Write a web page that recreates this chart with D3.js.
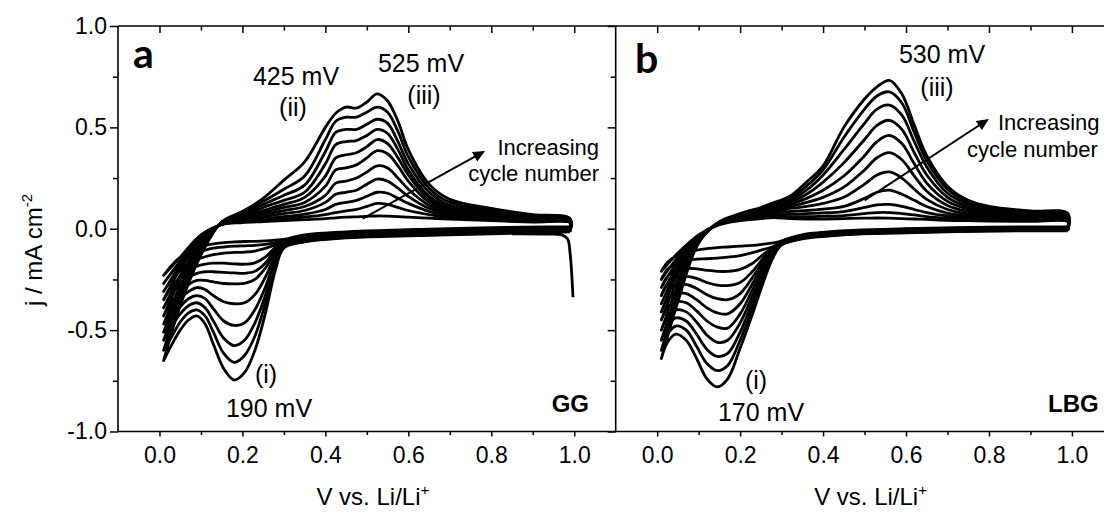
<!DOCTYPE html>
<html>
<head>
<meta charset="utf-8">
<script src="https://cdn.jsdelivr.net/npm/d3@7"></script>
<style>
  body { margin: 0; background: #fff; }
  svg { display: block; }
</style>
</head>
<body>
<svg id="chart" width="1104" height="512"></svg>
<script>
// ---- data (V vs Li/Li+, j in mA cm-2) ----
// cycles 1..11, smallest first

// panel a (GG) anodic sweeps
const vAnodicA = [0.01, 0.05, 0.1, 0.15, 0.2, 0.25, 0.3, 0.35, 0.4, 0.425, 0.45, 0.475, 0.5, 0.525, 0.55, 0.575, 0.6, 0.65, 0.7, 0.8, 0.9, 0.99];
const jAnodicA = [
  [-0.23, -0.14, -0.03, 0.02, 0.03, 0.035, 0.04, 0.045, 0.05, 0.054, 0.057, 0.059, 0.061, 0.063, 0.062, 0.06, 0.057, 0.052, 0.048, 0.04, 0.033, 0.03],
  [-0.27, -0.16, -0.04, 0.021, 0.035, 0.04, 0.05, 0.058, 0.07, 0.08, 0.088, 0.095, 0.11, 0.125, 0.12, 0.105, 0.09, 0.07, 0.055, 0.045, 0.036, 0.032],
  [-0.31, -0.18, -0.05, 0.022, 0.04, 0.05, 0.06, 0.072, 0.095, 0.12, 0.13, 0.14, 0.16, 0.18, 0.175, 0.15, 0.125, 0.085, 0.062, 0.05, 0.04, 0.034],
  [-0.35, -0.2, -0.06, 0.024, 0.045, 0.06, 0.075, 0.09, 0.13, 0.17, 0.18, 0.19, 0.22, 0.245, 0.235, 0.2, 0.16, 0.1, 0.07, 0.055, 0.043, 0.036],
  [-0.39, -0.23, -0.07, 0.026, 0.05, 0.07, 0.09, 0.11, 0.165, 0.225, 0.235, 0.25, 0.28, 0.31, 0.3, 0.25, 0.195, 0.115, 0.078, 0.06, 0.047, 0.038],
  [-0.43, -0.25, -0.08, 0.028, 0.055, 0.08, 0.105, 0.13, 0.21, 0.29, 0.30, 0.315, 0.35, 0.385, 0.37, 0.31, 0.235, 0.13, 0.086, 0.065, 0.05, 0.04],
  [-0.47, -0.28, -0.09, 0.029, 0.06, 0.09, 0.12, 0.155, 0.26, 0.35, 0.365, 0.375, 0.405, 0.44, 0.42, 0.35, 0.265, 0.145, 0.095, 0.07, 0.054, 0.042],
  [-0.51, -0.3, -0.1, 0.03, 0.065, 0.105, 0.14, 0.18, 0.32, 0.415, 0.43, 0.435, 0.46, 0.49, 0.47, 0.39, 0.29, 0.16, 0.105, 0.077, 0.058, 0.044],
  [-0.55, -0.33, -0.11, 0.031, 0.07, 0.12, 0.165, 0.215, 0.38, 0.475, 0.49, 0.49, 0.515, 0.54, 0.52, 0.43, 0.32, 0.18, 0.115, 0.084, 0.062, 0.046],
  [-0.60, -0.35, -0.12, 0.032, 0.078, 0.135, 0.195, 0.26, 0.44, 0.53, 0.55, 0.55, 0.575, 0.60, 0.575, 0.48, 0.355, 0.2, 0.13, 0.092, 0.066, 0.048],
  [-0.65, -0.38, -0.13, 0.033, 0.085, 0.15, 0.24, 0.33, 0.50, 0.57, 0.60, 0.595, 0.625, 0.665, 0.63, 0.53, 0.39, 0.22, 0.145, 0.10, 0.07, 0.05]
];

// panel a cathodic sweeps
const vCathodicA = [0.01, 0.03, 0.05, 0.07, 0.09, 0.11, 0.13, 0.155, 0.18, 0.205, 0.23, 0.255, 0.28, 0.3, 0.35, 0.45, 0.6, 0.8, 0.99];
const jCathodicA = [
  [-0.23, -0.18, -0.14, -0.112, -0.095, -0.083, -0.075, -0.068, -0.065, -0.063, -0.062, -0.06, -0.056, -0.052, -0.03, -0.015, -0.005, 0.005, 0.01],
  [-0.27, -0.215, -0.17, -0.14, -0.12, -0.106, -0.096, -0.09, -0.086, -0.084, -0.082, -0.077, -0.068, -0.058, -0.033, -0.018, -0.008, 0.002, 0.008],
  [-0.31, -0.25, -0.205, -0.172, -0.152, -0.138, -0.128, -0.12, -0.117, -0.115, -0.11, -0.097, -0.078, -0.062, -0.037, -0.021, -0.011, -0.001, 0.006],
  [-0.35, -0.285, -0.24, -0.205, -0.185, -0.175, -0.17, -0.17, -0.173, -0.175, -0.168, -0.14, -0.09, -0.066, -0.04, -0.024, -0.014, -0.004, 0.004],
  [-0.39, -0.32, -0.275, -0.24, -0.22, -0.212, -0.212, -0.215, -0.218, -0.22, -0.21, -0.17, -0.10, -0.07, -0.044, -0.027, -0.017, -0.007, 0.002],
  [-0.43, -0.36, -0.31, -0.275, -0.255, -0.255, -0.262, -0.27, -0.272, -0.27, -0.25, -0.195, -0.115, -0.074, -0.048, -0.03, -0.02, -0.01, 0.0],
  [-0.47, -0.40, -0.345, -0.31, -0.29, -0.30, -0.33, -0.36, -0.37, -0.365, -0.325, -0.24, -0.13, -0.078, -0.051, -0.033, -0.023, -0.013, -0.003],
  [-0.51, -0.44, -0.385, -0.345, -0.33, -0.345, -0.395, -0.455, -0.477, -0.465, -0.40, -0.29, -0.15, -0.082, -0.055, -0.036, -0.026, -0.016, -0.006],
  [-0.55, -0.48, -0.42, -0.38, -0.365, -0.39, -0.455, -0.54, -0.576, -0.55, -0.465, -0.33, -0.165, -0.085, -0.058, -0.039, -0.029, -0.019, -0.009],
  [-0.60, -0.53, -0.46, -0.415, -0.40, -0.43, -0.51, -0.615, -0.659, -0.625, -0.53, -0.37, -0.18, -0.09, -0.062, -0.042, -0.032, -0.022, -0.012],
  [-0.65, -0.57, -0.50, -0.45, -0.43, -0.47, -0.57, -0.69, -0.746, -0.71, -0.60, -0.42, -0.20, -0.095, -0.065, -0.045, -0.035, -0.025, -0.015]
];

// first sweep of panel a starts at 1 V with a cathodic spike
const vFirstSweepA = [0.997, 0.99, 0.984, 0.97, 0.93, 0.85];
const jFirstSweepA = [-0.338, -0.12, -0.05, -0.03, -0.026, -0.025];

// panel b (LBG) anodic sweeps
const vAnodicB = [0.01, 0.05, 0.1, 0.15, 0.2, 0.25, 0.28, 0.32, 0.36, 0.4, 0.45, 0.5, 0.53, 0.56, 0.59, 0.62, 0.65, 0.7, 0.75, 0.8, 0.9, 0.99];
const jAnodicB = [
  [-0.21, -0.12, -0.03, 0.02, 0.04, 0.05, 0.055, 0.05, 0.048, 0.048, 0.05, 0.052, 0.053, 0.052, 0.05, 0.048, 0.046, 0.042, 0.04, 0.038, 0.036, 0.034],
  [-0.25, -0.14, -0.035, 0.022, 0.045, 0.058, 0.065, 0.06, 0.06, 0.062, 0.065, 0.075, 0.08, 0.08, 0.075, 0.068, 0.06, 0.052, 0.047, 0.044, 0.04, 0.037],
  [-0.29, -0.16, -0.04, 0.024, 0.05, 0.065, 0.075, 0.072, 0.075, 0.078, 0.085, 0.105, 0.118, 0.12, 0.11, 0.095, 0.08, 0.063, 0.054, 0.05, 0.044, 0.04],
  [-0.33, -0.18, -0.045, 0.026, 0.053, 0.072, 0.085, 0.085, 0.09, 0.097, 0.11, 0.15, 0.18, 0.19, 0.17, 0.14, 0.11, 0.077, 0.063, 0.056, 0.048, 0.043],
  [-0.37, -0.2, -0.05, 0.028, 0.056, 0.078, 0.095, 0.1, 0.11, 0.125, 0.155, 0.22, 0.265, 0.28, 0.25, 0.195, 0.145, 0.095, 0.073, 0.062, 0.052, 0.046],
  [-0.41, -0.22, -0.055, 0.03, 0.058, 0.083, 0.102, 0.11, 0.13, 0.155, 0.205, 0.29, 0.35, 0.375, 0.34, 0.26, 0.185, 0.115, 0.085, 0.07, 0.057, 0.05],
  [-0.45, -0.25, -0.06, 0.031, 0.06, 0.088, 0.108, 0.12, 0.15, 0.19, 0.26, 0.36, 0.43, 0.46, 0.42, 0.32, 0.225, 0.135, 0.097, 0.078, 0.062, 0.054],
  [-0.50, -0.28, -0.062, 0.032, 0.062, 0.092, 0.113, 0.13, 0.17, 0.23, 0.325, 0.44, 0.51, 0.535, 0.49, 0.375, 0.265, 0.155, 0.108, 0.086, 0.068, 0.058],
  [-0.55, -0.31, -0.065, 0.033, 0.063, 0.095, 0.118, 0.14, 0.19, 0.265, 0.39, 0.52, 0.59, 0.61, 0.56, 0.43, 0.305, 0.175, 0.12, 0.094, 0.074, 0.063],
  [-0.60, -0.33, -0.068, 0.034, 0.064, 0.098, 0.122, 0.15, 0.21, 0.29, 0.45, 0.59, 0.655, 0.675, 0.62, 0.475, 0.335, 0.195, 0.13, 0.102, 0.081, 0.069],
  [-0.64, -0.36, -0.07, 0.035, 0.075, 0.105, 0.128, 0.16, 0.23, 0.31, 0.50, 0.64, 0.70, 0.732, 0.665, 0.51, 0.36, 0.21, 0.14, 0.11, 0.088, 0.075]
];

// panel b cathodic sweeps
const vCathodicB = [0.01, 0.025, 0.045, 0.07, 0.095, 0.12, 0.145, 0.17, 0.2, 0.23, 0.26, 0.28, 0.3, 0.35, 0.45, 0.6, 0.8, 0.99];
const jCathodicB = [
  [-0.21, -0.165, -0.135, -0.115, -0.105, -0.098, -0.093, -0.09, -0.086, -0.082, -0.075, -0.07, -0.06, -0.03, -0.01, 0.0, 0.008, 0.01],
  [-0.25, -0.2, -0.17, -0.155, -0.15, -0.148, -0.145, -0.14, -0.132, -0.118, -0.1, -0.088, -0.062, -0.032, -0.012, -0.002, 0.006, 0.008],
  [-0.29, -0.235, -0.205, -0.195, -0.198, -0.205, -0.21, -0.21, -0.2, -0.17, -0.12, -0.095, -0.064, -0.034, -0.014, -0.004, 0.004, 0.006],
  [-0.33, -0.27, -0.24, -0.235, -0.245, -0.265, -0.278, -0.28, -0.265, -0.21, -0.135, -0.1, -0.066, -0.036, -0.016, -0.006, 0.002, 0.004],
  [-0.37, -0.31, -0.28, -0.275, -0.295, -0.325, -0.345, -0.35, -0.32, -0.24, -0.15, -0.105, -0.068, -0.038, -0.018, -0.008, 0.0, 0.002],
  [-0.41, -0.35, -0.32, -0.32, -0.35, -0.39, -0.415, -0.42, -0.37, -0.27, -0.165, -0.11, -0.07, -0.04, -0.02, -0.01, -0.002, 0.0],
  [-0.45, -0.39, -0.36, -0.365, -0.405, -0.455, -0.485, -0.49, -0.42, -0.30, -0.18, -0.115, -0.072, -0.042, -0.022, -0.012, -0.004, -0.002],
  [-0.50, -0.435, -0.40, -0.41, -0.46, -0.525, -0.56, -0.55, -0.465, -0.33, -0.195, -0.12, -0.074, -0.044, -0.024, -0.014, -0.006, -0.004],
  [-0.55, -0.48, -0.44, -0.455, -0.52, -0.595, -0.63, -0.615, -0.51, -0.36, -0.21, -0.125, -0.076, -0.046, -0.026, -0.016, -0.008, -0.006],
  [-0.60, -0.52, -0.48, -0.50, -0.58, -0.665, -0.70, -0.675, -0.55, -0.39, -0.225, -0.13, -0.078, -0.048, -0.028, -0.018, -0.01, -0.008],
  [-0.64, -0.56, -0.52, -0.55, -0.64, -0.74, -0.78, -0.74, -0.59, -0.42, -0.24, -0.14, -0.08, -0.05, -0.03, -0.02, -0.012, -0.01]
];

// "Increasing cycle number" arrows: [V, j] tail and head
const arrowA = [[0.49, 0.05], [0.78, 0.378]];
const arrowB = [[0.50, 0.14], [0.795, 0.535]];

// ticks
const xMajor = [0, 0.2, 0.4, 0.6, 0.8, 1.0];
const xTickLabels = ["0.0", "0.2", "0.4", "0.6", "0.8", "1.0"];
const xMinor = [0.1, 0.3, 0.5, 0.7, 0.9];
const yMajor = [-1, -0.5, 0, 0.5, 1];
const yTickLabels = ["-1.0", "-0.5", "0.0", "0.5", "1.0"];
const yMinor = [-0.75, -0.25, 0.25, 0.75];

// ---- layout ----
const width = 1104, height = 512;
const plotTop = 26, plotBottom = 431.5;
const font = "'Liberation Sans', Arial, sans-serif";

const svg = d3.select("#chart");
svg.append("rect").attr("width", width).attr("height", height).attr("fill", "#fff");

const xa = d3.scaleLinear().domain([-0.1, 1.1]).range([118, 615.7]);
const xb = d3.scaleLinear().domain([-0.1, 1.1]).range([615.7, 1113.4]);
const y = d3.scaleLinear().domain([-1, 1]).range([plotBottom, plotTop]);

// arrow head
svg.append("defs")
  .append("marker")
  .attr("id", "head")
  .attr("viewBox", "0 0 10 10")
  .attr("refX", 8)
  .attr("refY", 5)
  .attr("markerWidth", 6.5)
  .attr("markerHeight", 6)
  .attr("orient", "auto")
  .append("path")
  .attr("d", "M0,0.5 L10,5 L0,9.5 z")
  .attr("fill", "#000");

// build one closed loop per cycle: cathodic 1V -> 0V then anodic 0V -> 1V
function buildLoops(vAn, jAn, vCa, jCa) {
  return jAn.map((row, i) => {
    const cath = vCa.map((v, k) => [v, jCa[i][k]]).reverse();
    const an = vAn.map((v, k) => [v, row[k]]);
    const pts = cath.concat(an);
    pts.push(pts[0]);
    return pts;
  });
}

function drawPanel(x, loops) {
  const line = d3.line()
    .x((d) => x(d[0]))
    .y((d) => y(d[1]))
    .curve(d3.curveCatmullRom.alpha(0.5));

  const g = svg.append("g");
  g.selectAll(".cycle")
    .data(loops)
    .enter()
    .append("path")
    .attr("class", "cycle")
    .attr("d", line)
    .attr("fill", "none")
    .attr("stroke", "#000")
    .attr("stroke-width", 2.8)
    .attr("stroke-linejoin", "round");
  return line;
}

const lineA = drawPanel(xa, buildLoops(vAnodicA, jAnodicA, vCathodicA, jCathodicA));
drawPanel(xb, buildLoops(vAnodicB, jAnodicB, vCathodicB, jCathodicB));

// the first sweep spike at 1 V (panel a)
svg.append("path")
  .datum(vFirstSweepA.map((v, k) => [v, jFirstSweepA[k]]))
  .attr("d", lineA)
  .attr("fill", "none")
  .attr("stroke", "#000")
  .attr("stroke-width", 2.8);

// arrows
[[xa, arrowA], [xb, arrowB]].forEach(([x, a]) => {
  svg.append("line")
    .attr("x1", x(a[0][0]))
    .attr("y1", y(a[0][1]))
    .attr("x2", x(a[1][0]))
    .attr("y2", y(a[1][1]))
    .attr("stroke", "#000")
    .attr("stroke-width", 2)
    .attr("marker-end", "url(#head)");
});

// ---- axes ----
function styleAxis(g, size) {
  g.select(".domain").remove();
  g.selectAll(".tick line").attr("stroke", "#000").attr("stroke-width", 1.5);
  g.attr("font-size", size).attr("font-family", font);
  g.selectAll("text").attr("fill", "#000");
}

[xa, xb].forEach((x) => {
  // bottom
  svg.append("g")
    .attr("transform", `translate(0,${plotBottom})`)
    .call(d3.axisBottom(x).tickValues(xMajor).tickFormat((d, i) => xTickLabels[i]).tickSize(5).tickPadding(10))
    .call((g) => styleAxis(g, 23));
  svg.append("g")
    .attr("transform", `translate(0,${plotBottom})`)
    .call(d3.axisBottom(x).tickValues(xMinor).tickFormat("").tickSize(3.5))
    .call((g) => styleAxis(g, 23));
  // top, ticks pointing inward
  svg.append("g")
    .attr("transform", `translate(0,${plotTop})`)
    .call(d3.axisBottom(x).tickValues(xMajor).tickFormat("").tickSize(7))
    .call((g) => styleAxis(g, 23));
  svg.append("g")
    .attr("transform", `translate(0,${plotTop})`)
    .call(d3.axisBottom(x).tickValues(xMinor).tickFormat("").tickSize(4.5))
    .call((g) => styleAxis(g, 23));
});

// left axis with labels
svg.append("g")
  .attr("transform", `translate(${xa.range()[0]},0)`)
  .call(d3.axisLeft(y).tickValues(yMajor).tickFormat((d, i) => yTickLabels[i]).tickSize(8).tickPadding(3))
  .call((g) => styleAxis(g, 23));
svg.append("g")
  .attr("transform", `translate(${xa.range()[0]},0)`)
  .call(d3.axisLeft(y).tickValues(yMinor).tickFormat("").tickSize(5))
  .call((g) => styleAxis(g, 23));

// shared middle axis (right of a / left of b)
svg.append("g")
  .attr("transform", `translate(${xb.range()[0]},0)`)
  .call(d3.axisLeft(y).tickValues(yMajor).tickFormat("").tickSize(8))
  .call((g) => styleAxis(g, 23));
svg.append("g")
  .attr("transform", `translate(${xb.range()[0]},0)`)
  .call(d3.axisLeft(y).tickValues(yMinor).tickFormat("").tickSize(5))
  .call((g) => styleAxis(g, 23));

// frame lines
const frame = svg.append("g").attr("stroke", "#000").attr("stroke-width", 1.6);
frame.append("line").attr("x1", xa.range()[0]).attr("x2", width).attr("y1", plotTop).attr("y2", plotTop);
frame.append("line").attr("x1", xa.range()[0]).attr("x2", width).attr("y1", plotBottom).attr("y2", plotBottom);
frame.append("line").attr("x1", xa.range()[0]).attr("x2", xa.range()[0]).attr("y1", plotTop).attr("y2", plotBottom);
frame.append("line").attr("x1", xb.range()[0]).attr("x2", xb.range()[0]).attr("y1", plotTop).attr("y2", plotBottom);

// ---- text ----
function label(x, yy, str, size, anchor, weight, family) {
  return svg.append("text")
    .attr("x", x)
    .attr("y", yy)
    .attr("font-size", size)
    .attr("font-family", family || font)
    .attr("font-weight", weight || "normal")
    .attr("text-anchor", anchor || "middle")
    .attr("fill", "#000")
    .text(str);
}

// axis titles
[xa, xb].forEach((x) => {
  const t = label(d3.mean(x.range()) + 6, 505, "V vs. Li/Li", 24);
  t.append("tspan").attr("font-size", 15).attr("dy", -10).text("+");
});
const yTitle = svg.append("text")
  .attr("transform", "translate(42,250) rotate(-90)")
  .attr("font-size", 24)
  .attr("font-family", font)
  .attr("text-anchor", "middle")
  .attr("fill", "#000")
  .text("j / mA cm");
yTitle.append("tspan").attr("font-size", 15).attr("dy", -10).text("-2");

// panel letters and sample names
label(133, 68, "a", 41, "start", "bold", "Lato, 'Open Sans', sans-serif");
label(635, 73, "b", 41, "start", "bold", "Lato, 'Open Sans', sans-serif");
label(589, 411.5, "GG", 24, "end", "bold");
label(1048, 411.5, "LBG", 24, "start", "bold");

// peak annotations, panel a
label(296, 85, "425 mV", 25);
label(293, 116, "(ii)", 25);
label(421, 72, "525 mV", 25);
label(424, 104, "(iii)", 25);
label(266, 383, "(i)", 25);
label(269, 416.5, "190 mV", 25);
label(599, 155, "Increasing", 22, "end");
label(599, 181, "cycle number", 22, "end");

// peak annotations, panel b
label(942, 63, "530 mV", 25);
label(937, 96, "(iii)", 25);
label(756, 389, "(i)", 25);
label(761, 421, "170 mV", 25);
label(998, 130, "Increasing", 22, "start");
label(967, 157, "cycle number", 22, "start");
</script>
</body>
</html>
